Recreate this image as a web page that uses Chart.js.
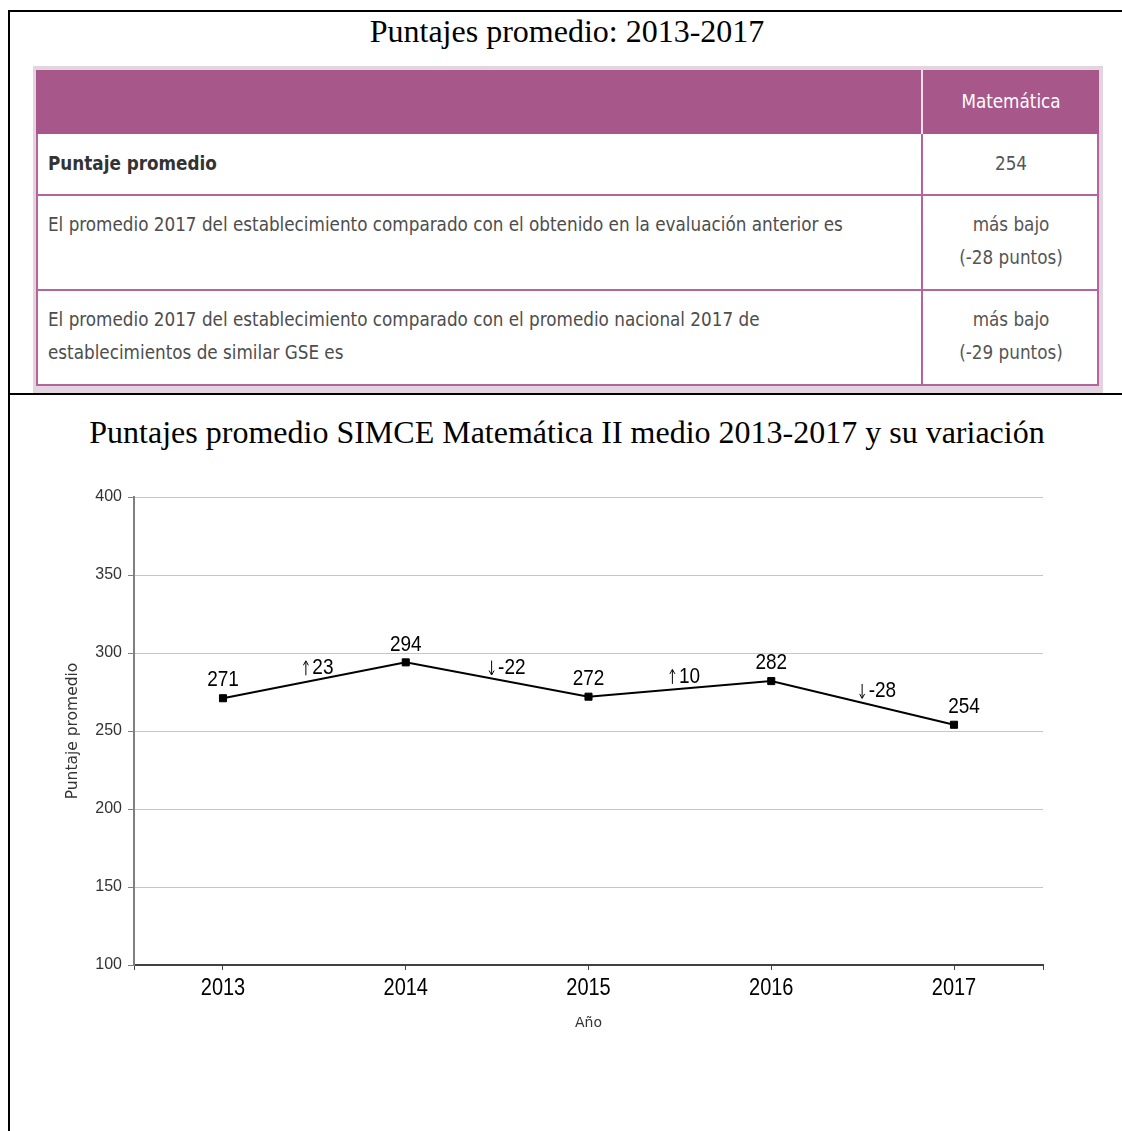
<!DOCTYPE html>
<html>
<head>
<meta charset="utf-8">
<script src="https://cdn.jsdelivr.net/npm/chart.js@4.4.0/dist/chart.umd.min.js"></script>
<style>
  body { margin: 0; background: #fff; width: 1122px; height: 1131px; overflow: hidden; position: relative; }
  .abs { position: absolute; }
  #frame { left: 8px; top: 10px; width: 1160px; height: 1200px; border-left: 2px solid #000; border-top: 2px solid #000; }
  #sep { left: 8px; top: 393px; width: 1160px; height: 2px; background: #000; }
  .title { left: 10px; width: 1114px; text-align: center; font-family: "Liberation Serif", "Times New Roman", serif; font-size: 32px; line-height: 38px; color: #000; white-space: nowrap; }
  #t1 { top: 12px; }
  #t2 { top: 413px; }
  #tbox { left: 33px; top: 66px; width: 1070px; height: 327px; background: #e2d5df; }
  #tbl { left: 36px; top: 70px; width: 1063px; height: 316px; background: #fff; border: 2px solid #b5659e; box-sizing: border-box; }
  #thead { left: 36px; top: 70px; width: 1063px; height: 64px; background: #a8578a; }
  .vline { width: 2px; }
  .hline { left: 36px; width: 1063px; height: 2px; background: #b5659e; }
  .cell { font-family: "DejaVu Sans Condensed", sans-serif; line-height: 33px; white-space: nowrap; color: #4d4d4d; }
  .left { left: 48px; width: 860px; }
  .right { left: 923px; width: 176px; text-align: center; color: #555; }
  #chart { left: 0; top: 440px; }
</style>
</head>
<body>
<div id="frame" class="abs"></div>
<div id="t1" class="abs title">Puntajes promedio: 2013-2017</div>

<div id="tbox" class="abs"></div>
<div id="sep" class="abs"></div>
<div id="tbl" class="abs"></div>
<div id="thead" class="abs"></div>
<div class="abs vline" style="left:921px;top:70px;height:64px;background:#efe0ea"></div>
<div class="abs vline" style="left:921px;top:134px;height:252px;background:#b5659e"></div>
<div class="abs hline" style="top:194px"></div>
<div class="abs hline" style="top:289px"></div>
<div id="cells"></div>

<div id="t2" class="abs title">Puntajes promedio SIMCE Matemática II medio 2013-2017 y su variación</div>
<canvas id="chart" class="abs" width="1122" height="691"></canvas>

<script>
// table contents
const headerLabel = 'Matemática';
const rowLabels = [
  'Puntaje promedio',
  'El promedio 2017 del establecimiento comparado con el obtenido en la evaluación anterior es',
  'El promedio 2017 del establecimiento comparado con el promedio nacional 2017 de\nestablecimientos de similar GSE es'
];
const rowValues = ['254', 'más bajo\n(-28 puntos)', 'más bajo\n(-29 puntos)'];
const rowTops = [134, 195, 290];

// chart data
const years = [2013, 2014, 2015, 2016, 2017];
const scores = [271, 294, 272, 282, 254];
const changes = [23, -22, 10, -28];
const yTicks = [100, 150, 200, 250, 300, 350, 400];

// size the table text so the long sentence spans like the picture (~797px)
const cellFamily = '"DejaVu Sans Condensed", sans-serif';
const mctx = document.createElement('canvas').getContext('2d');
mctx.font = '20px ' + cellFamily;
const cellSize = Math.round(20 * 797 / mctx.measureText(rowLabels[1]).width * 10) / 10;

const cells = document.getElementById('cells');
function addCell(cls, top, text, extra) {
  const d = document.createElement('div');
  d.className = 'abs cell ' + cls;
  d.style.top = top + 'px';
  d.style.fontSize = cellSize + 'px';
  d.innerHTML = text.split('\n').join('<br>');
  Object.assign(d.style, extra || {});
  cells.appendChild(d);
}
addCell('right', 85, headerLabel, { color: '#fff' });
rowLabels.forEach((t, i) => {
  addCell('left', rowTops[i] + 13, t, i === 0 ? { fontWeight: 'bold', color: '#333' } : {});
  addCell('right', rowTops[i] + 13, rowValues[i]);
});

// text in the source image is a bit taller than wide, so stretch it vertically
const STRETCH = 1.18;
function tallText(ctx, txt, x, y, k) {
  ctx.save();
  ctx.translate(x, y);
  ctx.scale(1, k);
  ctx.fillText(txt, 0, 0);
  ctx.restore();
}

// value labels and variation arrows
const labelPlugin = {
  id: 'pointLabels',
  beforeDraw(chart) {
    // stretch the year labels around their own row
    const s = chart.scales.x;
    if (s._tallWrapped) return;
    const orig = s.drawLabels;
    s.drawLabels = function (area) {
      const items = this.getLabelItems(area);
      if (!items.length) return;
      const lh = Chart.helpers.toFont(this.options.ticks.font).lineHeight;
      const cy = items[0].options.translation[1] + lh / 2;
      const ctx = this.ctx;
      ctx.save();
      ctx.translate(0, cy);
      ctx.scale(1, STRETCH);
      ctx.translate(0, -cy);
      orig.call(this, area);
      ctx.restore();
    };
    s._tallWrapped = true;
  },
  afterDatasetsDraw(chart, args, opts) {
    const ctx = chart.ctx;
    const pts = chart.getDatasetMeta(0).data;
    ctx.save();
    ctx.fillStyle = '#000';
    ctx.strokeStyle = '#000';
    ctx.font = opts.font;
    ctx.textBaseline = 'middle';
    ctx.textAlign = 'center';
    pts.forEach((p, i) => {
      tallText(ctx, String(scores[i]), p.x + opts.valueDx[i], p.y - 18, STRETCH);
    });
    ctx.textAlign = 'left';
    changes.forEach((c, i) => {
      const a = pts[i], b = pts[i + 1];
      const x = (a.x + b.x) / 2 + opts.changeDx[i];
      const y = (a.y + b.y) / 2 - 12;
      const ax = x + 2.5;
      ctx.lineWidth = 1;
      ctx.beginPath();
      ctx.moveTo(ax, y - 7);
      ctx.lineTo(ax, y + 7);
      if (c > 0) {
        ctx.moveTo(ax - 2.5, y - 3);
        ctx.lineTo(ax, y - 7.5);
        ctx.lineTo(ax + 2.5, y - 3);
      } else {
        ctx.moveTo(ax - 2.5, y + 3);
        ctx.lineTo(ax, y + 7.5);
        ctx.lineTo(ax + 2.5, y + 3);
      }
      ctx.stroke();
      tallText(ctx, String(c), x + 9, y, STRETCH);
    });
    ctx.restore();
  }
};

const sans = '"Liberation Sans", Arial, sans-serif';

new Chart(document.getElementById('chart'), {
  type: 'line',
  data: {
    datasets: [{
      data: years.map((y, i) => ({ x: y, y: scores[i] })),
      borderColor: '#000',
      borderWidth: 2,
      backgroundColor: '#000',
      pointStyle: 'rect',
      pointRadius: 5,
      pointBorderWidth: 1,
      pointBorderColor: '#000',
      pointBackgroundColor: '#000',
      tension: 0,
      fill: false
    }]
  },
  options: {
    responsive: false,
    animation: false,
    layout: { padding: { left: 64, right: 79, top: 57, bottom: 99 } },
    plugins: {
      legend: { display: false },
      tooltip: { enabled: false },
      pointLabels: {
        font: '19px ' + sans,
        valueDx: [0, 0, 0, 0, 10],
        changeDx: [-11, -8, -10, -3]
      }
    },
    scales: {
      x: {
        type: 'linear',
        min: 2012.513,
        max: 2017.487,
        afterBuildTicks: s => { s.ticks = [s.min, ...years, s.max].map(v => ({ value: v })); },
        afterFit: s => { s.height = 67; },
        ticks: {
          autoSkip: false,
          maxRotation: 0,
          padding: 6,
          color: '#000',
          font: { family: sans, size: 20 },
          callback: v => years.includes(v) ? String(v) : ''
        },
        grid: { drawOnChartArea: false, drawTicks: true, tickLength: 5, tickColor: '#404040', tickWidth: 1 },
        border: { color: '#404040', width: 2 },
        title: { display: true, text: 'Año', color: '#333', padding: 0, font: { family: '"DejaVu Sans", sans-serif', size: 14 } }
      },
      y: {
        min: 100,
        max: 400,
        afterBuildTicks: s => { s.ticks = yTicks.map(v => ({ value: v })); },
        afterFit: s => { s.width = 70; },
        ticks: { padding: 6, color: '#333', font: { family: sans, size: 16 } },
        grid: { color: '#c6c6c6', lineWidth: 1, tickLength: 6, tickColor: '#808080' },
        border: { color: '#808080', width: 2 },
        title: { display: true, text: 'Puntaje promedio', color: '#333', padding: 0, font: { family: '"DejaVu Sans", sans-serif', size: 15.5 } }
      }
    }
  },
  plugins: [labelPlugin]
});
</script>
</body>
</html>
